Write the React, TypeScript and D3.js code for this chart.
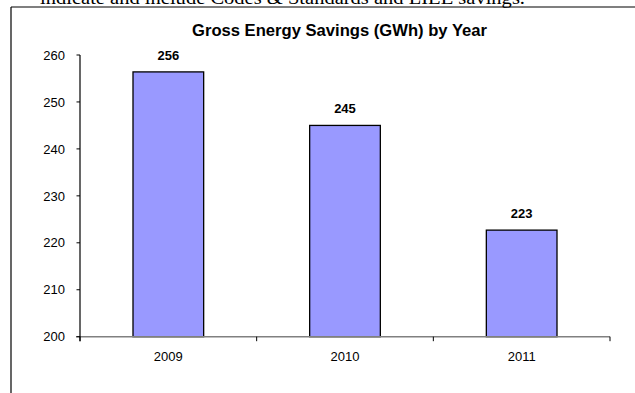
import React from "react";
import * as d3 from "d3";

const categories = ["2009", "2010", "2011"];
const savings = [256.4, 245.0, 222.7];
const valueLabels = ["256", "245", "223"];
const yTicks = [200, 210, 220, 230, 240, 250, 260];
const titleText = "Gross Energy Savings (GWh) by Year";
const headerText = "indicate and include Codes & Standards and LIEE savings.";

const W = 635;
const H = 393;

export default function App() {
  const x = d3
    .scaleBand<string>()
    .domain(categories)
    .range([80, 610])
    .paddingInner(0.6)
    .paddingOuter(0.3);
  const y = d3.scaleLinear().domain([200, 260]).range([336.7, 55]);
  const step = x.step();
  const x0 = 80;
  const boundaries = d3.range(categories.length + 1).map((i) => x0 + i * step);
  const font = "Arial, 'Liberation Sans', Helvetica, sans-serif";

  return (
    <svg
      width={W}
      height={H}
      style={{ position: "absolute", left: 0, top: 0, background: "#fff" }}
      fontFamily={font}
    >
      <rect x={0} y={0} width={W} height={H} fill="#fff" />
      {/* header text (cut off by the page edge, as in the reference) */}
      <text
        x={40}
        y={4}
        fontFamily="'Liberation Serif', 'Times New Roman', serif"
        fontSize={18}
        textLength={485}
        lengthAdjust="spacingAndGlyphs"
        fill="#000"
      >
        {headerText}
      </text>
      {/* chart frame */}
      <line x1={11} y1={7} x2={W} y2={7} stroke="#000" strokeWidth={1.2} />
      <line x1={11} y1={7} x2={11} y2={H} stroke="#000" strokeWidth={1.2} />

      {/* title */}
      <text
        x={339.5}
        y={35.7}
        textAnchor="middle"
        fontWeight="bold"
        fontSize={16}
        textLength={295}
        lengthAdjust="spacingAndGlyphs"
        fill="#000"
      >
        {titleText}
      </text>

      {/* bars */}
      {categories.map((c, i) => (
        <g key={c}>
          <rect
            x={x(c)}
            y={y(savings[i])}
            width={x.bandwidth()}
            height={y(200) - y(savings[i])}
            fill="#9999FF"
            stroke="#000"
            strokeWidth={1.3}
          />
          <text
            x={(x(c) as number) + x.bandwidth() / 2}
            y={y(savings[i]) - 12}
            textAnchor="middle"
            fontWeight="bold"
            fontSize={13}
            fill="#000"
          >
            {valueLabels[i]}
          </text>
          <text
            x={(x(c) as number) + x.bandwidth() / 2}
            y={361}
            textAnchor="middle"
            fontSize={13}
            fill="#000"
          >
            {c}
          </text>
        </g>
      ))}

      {/* x axis */}
      <line x1={76} y1={y(200)} x2={610} y2={y(200)} stroke="#808080" strokeWidth={1.5} />
      {boundaries.map((b, i) => (
        <line key={i} x1={b} y1={y(200)} x2={b} y2={y(200) + 4.5} stroke="#000" strokeWidth={1} />
      ))}

      {/* y axis */}
      <line x1={80} y1={y(260)} x2={80} y2={y(200) + 4.5} stroke="#000" strokeWidth={1.2} />
      {yTicks.map((t) => (
        <g key={t}>
          <line x1={76.5} y1={y(t)} x2={80} y2={y(t)} stroke="#000" strokeWidth={1} />
          <text
            x={65}
            y={y(t)}
            dy="0.36em"
            textAnchor="end"
            fontSize={13}
            fill="#000"
          >
            {t}
          </text>
        </g>
      ))}
    </svg>
  );
}
